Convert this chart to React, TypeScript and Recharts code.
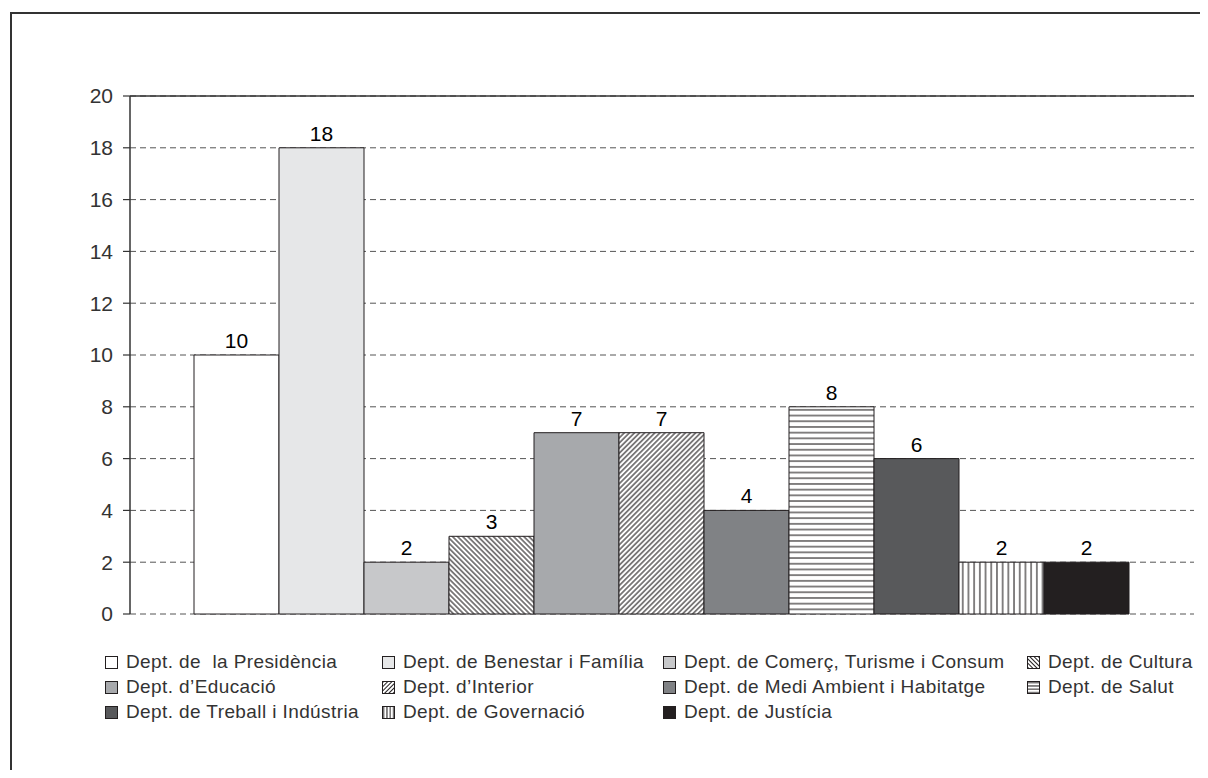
import React from 'react';
import { BarChart, Bar, XAxis, YAxis, CartesianGrid, ReferenceLine, LabelList } from 'recharts';

const departments = [
  'Dept. de  la Presidència',
  'Dept. de Benestar i Família',
  'Dept. de Comerç, Turisme i Consum',
  'Dept. de Cultura',
  'Dept. d\u2019Educació',
  'Dept. d\u2019Interior',
  'Dept. de Medi Ambient i Habitatge',
  'Dept. de Salut',
  'Dept. de Treball i Indústria',
  'Dept. de Governació',
  'Dept. de Justícia',
];
const projectCounts = [10, 18, 2, 3, 7, 7, 4, 8, 6, 2, 2];
const yTicks = [0, 2, 4, 6, 8, 10, 12, 14, 16, 18, 20];

const seriesKeys = departments.map((_, i) => `d${i}`);
const chartRow: Record<string, any> = { name: 'total' };
seriesKeys.forEach((k, i) => {
  chartRow[k] = projectCounts[i];
});
const chartData = [chartRow];

const fillStyles = [
  { solid: '#ffffff' },
  { solid: '#e6e7e8' },
  { solid: '#c7c8ca' },
  { pattern: 'cultura' },
  { solid: '#a7a9ac' },
  { pattern: 'interior' },
  { solid: '#808285' },
  { pattern: 'salut' },
  { solid: '#58595b' },
  { pattern: 'governacio' },
  { solid: '#231f20' },
];

const fillFor = (i: number, prefix: string) => {
  const s = fillStyles[i];
  return s.solid ? s.solid : `url(#${prefix}-${s.pattern})`;
};

const INK = '#231f20';
const FONT = '"Liberation Sans", Arial, Helvetica, sans-serif';

function PatternDefs({ prefix, diag, lines, sw }: { prefix: string; diag: number; lines: number; sw: number }) {
  return (
    <defs>
      <pattern id={`${prefix}-cultura`} patternUnits="userSpaceOnUse" width={diag} height={diag} patternTransform="rotate(-45)">
        <rect width={diag} height={diag} fill="#fff" />
        <line x1={diag / 2} y1={-1} x2={diag / 2} y2={diag + 1} stroke={INK} strokeWidth={sw} />
      </pattern>
      <pattern id={`${prefix}-interior`} patternUnits="userSpaceOnUse" width={diag} height={diag} patternTransform="rotate(45)">
        <rect width={diag} height={diag} fill="#fff" />
        <line x1={diag / 2} y1={-1} x2={diag / 2} y2={diag + 1} stroke={INK} strokeWidth={sw} />
      </pattern>
      <pattern id={`${prefix}-salut`} patternUnits="userSpaceOnUse" width={lines} height={lines}>
        <rect width={lines} height={lines} fill="#fff" />
        <line x1={-1} y1={lines / 2} x2={lines + 1} y2={lines / 2} stroke={INK} strokeWidth={sw} />
      </pattern>
      <pattern id={`${prefix}-governacio`} patternUnits="userSpaceOnUse" width={lines} height={lines}>
        <rect width={lines} height={lines} fill="#fff" />
        <line x1={lines / 2} y1={-1} x2={lines / 2} y2={lines + 1} stroke={INK} strokeWidth={sw} />
      </pattern>
    </defs>
  );
}

const legendCols = [97, 374, 655, 1019];
const legendRowTop = 644;
const legendRowStep = 25;

export default function App() {
  return (
    <div style={{ position: 'relative', width: 1192, height: 762 }}>
      <div style={{ position: 'absolute', left: 2, top: 4, width: 1198, height: 1.5, background: '#333' }} />
      <div style={{ position: 'absolute', left: 2, top: 4, width: 1.5, height: 766, background: '#333' }} />
      <svg width={0} height={0} style={{ position: 'absolute' }}>
        <PatternDefs prefix="lg" diag={3} lines={3.3} sw={1} />
      </svg>
      <div style={{ position: 'absolute', left: 0, top: 0 }}>
        <BarChart
          width={1192}
          height={620}
          data={chartData}
          margin={{ top: 88, right: 6, left: 0, bottom: 14 }}
          barCategoryGap={64}
          barGap={0}
        >
          <PatternDefs prefix="ch" diag={3.6} lines={5.7} sw={1.1} />
          <CartesianGrid vertical={false} stroke="#555" strokeDasharray="6 4" />
          <XAxis
            dataKey="name"
            height={0}
            tick={false}
            tickLine={false}
            axisLine={{ stroke: '#333', strokeWidth: 1.5 }}
          />
          <YAxis
            domain={[0, 20]}
            ticks={yTicks}
            interval={0}
            width={122}
            tickSize={7}
            tickMargin={10}
            axisLine={{ stroke: '#333', strokeWidth: 1.5 }}
            tickLine={{ stroke: '#333', strokeWidth: 1.2 }}
            tick={{ fill: '#333', fontSize: 21, fontFamily: FONT }}
          />
          <YAxis
            yAxisId="right"
            orientation="right"
            width={0}
            tick={false}
            tickLine={false}
            axisLine={{ stroke: '#333', strokeWidth: 1.5 }}
          />
          <ReferenceLine y={20} stroke="#333" strokeWidth={1.5} ifOverflow="visible" />
          {seriesKeys.map((k, i) => (
            <Bar
              key={k}
              dataKey={k}
              name={departments[i]}
              fill={fillFor(i, 'ch')}
              stroke={INK}
              strokeWidth={1}
              isAnimationActive={false}
            >
              <LabelList
                dataKey={k}
                position="top"
                offset={7}
                fill="#000"
                fontSize={21}
                fontFamily={FONT}
              />
            </Bar>
          ))}
        </BarChart>
      </div>
      {departments.map((d, i) => {
        const col = i % 4;
        const row = Math.floor(i / 4);
        return (
          <div
            key={d}
            style={{
              position: 'absolute',
              left: legendCols[col],
              top: legendRowTop + row * legendRowStep,
              height: 20,
              display: 'flex',
              alignItems: 'center',
              fontFamily: FONT,
              fontSize: 19,
              letterSpacing: 0.4,
              color: '#333',
              whiteSpace: 'pre',
            }}
          >
            <svg width={13} height={13} style={{ marginRight: 8, flex: 'none' }}>
              <rect x={0.5} y={0.5} width={12} height={12} fill={fillFor(i, 'lg')} stroke={INK} strokeWidth={1} />
            </svg>
            <span>{d}</span>
          </div>
        );
      })}
    </div>
  );
}
